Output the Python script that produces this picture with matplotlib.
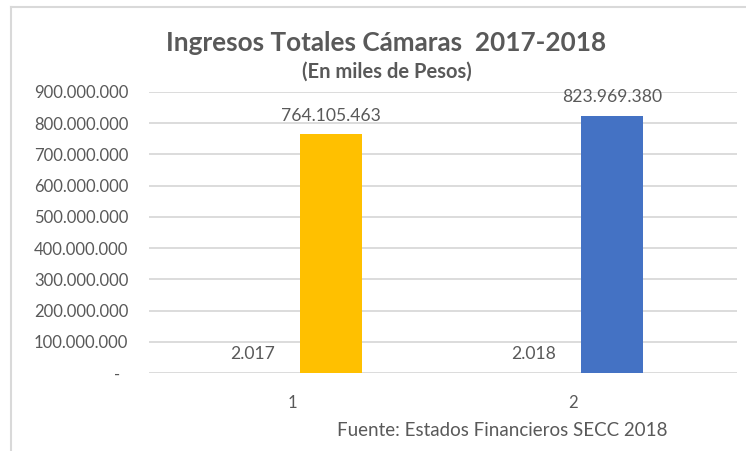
import matplotlib.pyplot as plt
from matplotlib.lines import Line2D
from matplotlib.ticker import FuncFormatter

# datos
categorias = ['1', '2']
anios = [2017, 2018]
ingresos = [764105463, 823969380]
colores = ['#FFC000', '#4472C4']
y_ticks = [0, 100000000, 200000000, 300000000, 400000000, 500000000,
           600000000, 700000000, 800000000, 900000000]

plt.rcParams['font.family'] = ['Lato', 'DejaVu Sans']
gris = '#595959'

W, H = 746, 451
fig = plt.figure(figsize=(W / 100, H / 100), dpi=100)
ax = fig.add_axes([149 / W, 78 / H, (737 - 149) / W, (373 - 92) / H])


def miles(v):
    return f'{int(round(v)):,}'.replace(',', '.')


x = list(range(len(categorias)))
ancho = 0.22
desp = 0.14

b1 = ax.bar([i - desp for i in x], anios, ancho, color=colores)
b2 = ax.bar([i + desp for i in x], ingresos, ancho, color=colores)

for barras, vals in ((b1, anios), (b2, ingresos)):
    for b, v in zip(barras, vals):
        ax.annotate(miles(v), (b.get_x() + b.get_width() / 2, b.get_height()),
                    xytext=(0, 13.5), textcoords='offset points',
                    ha='center', va='center', fontsize=12.6, color=gris)

ax.set_xlim(-0.509, 1.584)
ax.set_ylim(0, 900000000)
ax.set_yticks(y_ticks)
ax.yaxis.set_major_formatter(FuncFormatter(lambda v, p: '-  ' if v == 0 else miles(v)))
ax.set_xticks(x)
ax.set_xticklabels(categorias)
ax.tick_params(axis='y', length=0, pad=15, labelsize=12, labelcolor=gris)
ax.tick_params(axis='x', length=0, pad=16, labelsize=12, labelcolor=gris)
ax.grid(axis='y', color='#D9D9D9', linewidth=1.3)
ax.set_axisbelow(True)
for s in ax.spines.values():
    s.set_visible(False)

fig.text(386 / W, 1 - 43 / H, 'Ingresos Totales Cámaras  2017-2018',
         ha='center', va='center', fontsize=18.8, fontweight='bold', color=gris)
fig.text(387 / W, 1 - 72 / H, '(En miles de Pesos)',
         ha='center', va='center', fontsize=14.5, fontweight='bold', color=gris)
fig.text(502 / W, 1 - 430 / H, 'Fuente: Estados Financieros SECC 2018',
         ha='center', va='center', fontsize=13.5, color=gris)

# borde del grafico
fig.add_artist(Line2D([11 / W, 1], [1 - 7 / H, 1 - 7 / H], color='#D9D9D9', linewidth=1.5))
fig.add_artist(Line2D([11 / W, 11 / W], [0, 1 - 7 / H], color='#D9D9D9', linewidth=1.5))

fig.savefig('out.png', dpi=100)
